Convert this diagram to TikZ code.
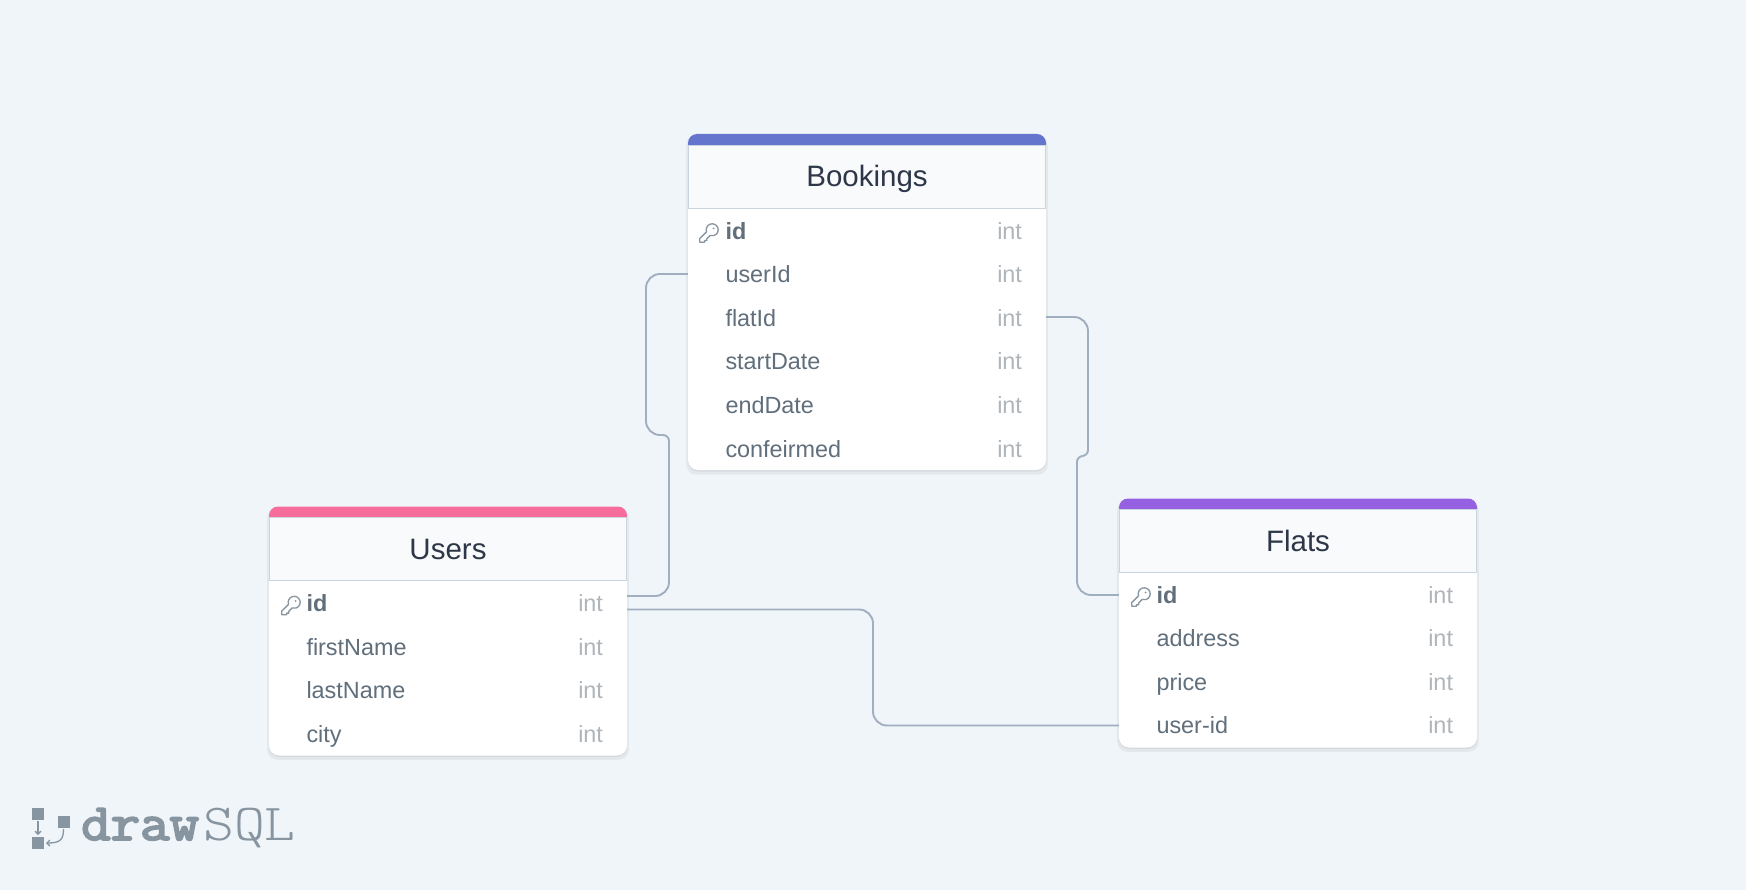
\documentclass[tikz,border=0pt]{standalone}
\usepackage{fontspec}
\setmainfont{Liberation Sans}
\newfontfamily\logoheavy[FakeBold=3.5]{Latin Modern Mono}
\usetikzlibrary{shadows,arrows.meta}

\definecolor{pagecol}{HTML}{F0F5F9}
\definecolor{headcol}{HTML}{F8FAFC}
\definecolor{edgecol}{HTML}{CBD5E0}
\definecolor{titlecol}{HTML}{2D3748}
\definecolor{fieldcol}{HTML}{606F7B}
\definecolor{typecol}{HTML}{B0B5BA}
\definecolor{linkcol}{HTML}{A0AEC0}
\definecolor{logocol}{HTML}{8795A1}
\definecolor{bookcol}{HTML}{6574CD}
\definecolor{usercol}{HTML}{F66D9B}
\definecolor{flatcol}{HTML}{9561E2}

\newcommand{\fieldrow}[1]{\hspace*{37.5pt}#1\hfill{\color{typecol}int}\hspace*{24pt}}
\newcommand{\keyrow}[1]{\hspace*{37.5pt}\textbf{#1}\hfill{\color{typecol}int}\hspace*{24pt}}

\tikzset{
  tablebody/.style={fill=white, rounded corners=10pt, minimum width=358pt, inner sep=0pt,
    general shadow={fill=black, opacity=0.05, shadow yshift=-3pt, shadow scale=1.01},
    general shadow={fill=black, opacity=0.06, shadow yshift=-1.5pt}},
  tablehead/.style={fill=headcol, draw=edgecol, line width=1pt, minimum width=357pt, minimum height=63pt,
    inner sep=0pt, text=titlecol, text height=26pt, text depth=6pt, font=\fontsize{29.5}{34}\selectfont},
  fieldbox/.style={inner sep=0pt, text width=358pt, minimum height=43pt, text height=20pt, text depth=5pt,
    text=fieldcol, font=\fontsize{23.4}{27}\selectfont},
  link/.style={draw=linkcol, line width=1.9pt, rounded corners=14pt},
  keyline/.style={draw=logocol, line width=1.3pt, line join=round},
  keyicon/.pic={
    \draw[keyline] (-2.44,-1.15) arc[start angle=160,end angle=470,radius=6]
      -- (-2.2,5.8) -- (-2.2,7.6) -- (-4.4,7.6) -- (-4.4,9.2) -- (-9.3,9.2) -- (-9.3,5.6) -- cycle;
    \fill[logocol] (4.6,-4.6) circle[radius=1];
  }
}

\begin{document}
\begin{tikzpicture}[x=1pt,y=-1pt]
\fill[pagecol] (0,0) rectangle (1746,890);
\useasboundingbox (0,0) rectangle (1746,890);

\node[tablebody, minimum height=336pt] (bookings) at (867,302) {};
\node[tablebody, minimum height=249pt] (users) at (448,631) {};
\node[tablebody, minimum height=249pt] (flats) at (1298,623) {};

\fill[bookcol] (688,145) [rounded corners=9pt] -- (688,134) -- (1046,134) [sharp corners] -- (1046,145) -- cycle;
\fill[usercol] (269,517) [rounded corners=9pt] -- (269,506.5) -- (627,506.5) [sharp corners] -- (627,517) -- cycle;
\fill[flatcol] (1119,509) [rounded corners=9pt] -- (1119,498.5) -- (1477,498.5) [sharp corners] -- (1477,509) -- cycle;

\node[tablehead] (bookingsname) at (867,177) {Bookings};
\node[tablehead] (usersname) at (448,549) {Users};
\node[tablehead] (flatsname) at (1298,541) {Flats};

\node[fieldbox] (b1) at (867,232) {\keyrow{id}};
\node[fieldbox] (b2) at (867,275) {\fieldrow{userId}};
\node[fieldbox] (b3) at (867,319) {\fieldrow{flatId}};
\node[fieldbox] (b4) at (867,362) {\fieldrow{startDate}};
\node[fieldbox] (b5) at (867,406) {\fieldrow{endDate}};
\node[fieldbox] (b6) at (867,450) {\fieldrow{confeirmed}};

\node[fieldbox] (u1) at (448,604) {\keyrow{id}};
\node[fieldbox] (u2) at (448,648) {\fieldrow{firstName}};
\node[fieldbox] (u3) at (448,691) {\fieldrow{lastName}};
\node[fieldbox] (u4) at (448,735) {\fieldrow{city}};

\node[fieldbox] (f1) at (1298,596) {\keyrow{id}};
\node[fieldbox] (f2) at (1298,639) {\fieldrow{address}};
\node[fieldbox] (f3) at (1298,683) {\fieldrow{price}};
\node[fieldbox] (f4) at (1298,726) {\fieldrow{user-id}};

\pic at (709,233) {keyicon};
\pic at (291,605.5) {keyicon};
\pic at (1141,597) {keyicon};

\draw[link] ([yshift=1pt]b2.west) -- (646,274) -- (646,435) [rounded corners=6pt] -- (669,435) [rounded corners=14pt] -- (669,596) -- ([yshift=8pt]u1.east);
\draw[link] ([yshift=-5.5pt]u1.east) -- (873,609.5) -- (873,725.5) -- ([yshift=.5pt]f4.west);
\draw[link] ([yshift=2pt]b3.east) -- (1088,317) [rounded corners=6pt] -- (1088,456) -- (1077,456) [rounded corners=14pt] -- (1077,595) -- ([yshift=1pt]f1.west);

% logo
\fill[logocol] (32,807.5) rectangle (44,819.5);
\fill[logocol] (58,816) rectangle (70,828);
\fill[logocol] (32,836.5) rectangle (44,848.5);
\coordinate (logofrom) at (38,821);
\coordinate (logoto) at (38,835);
\coordinate (logoout) at (63.5,829);
\coordinate (logoin) at (46,843);
\draw[logocol, line width=1.3pt, -{Straight Barb[length=3pt,width=6pt]}] (logofrom) -- (logoto);
\draw[logocol, line width=1.3pt, -{Straight Barb[length=3pt,width=6pt]}] (logoout) .. controls (63.5,840) and (60,843) .. (logoin);
\node[anchor=base west, inner sep=0pt, text=logocol, xscale=1.1, transform shape, font=\logoheavy\fontsize{52}{54}\selectfont] (logodraw) at (81,840) {draw};
\node[anchor=base west, inner sep=0pt, text=logocol, xscale=1.13, transform shape, font=\ttfamily\fontseries{l}\fontsize{52}{54}\selectfont] (logosql) at (203,840) {SQL};
\end{tikzpicture}
\end{document}
